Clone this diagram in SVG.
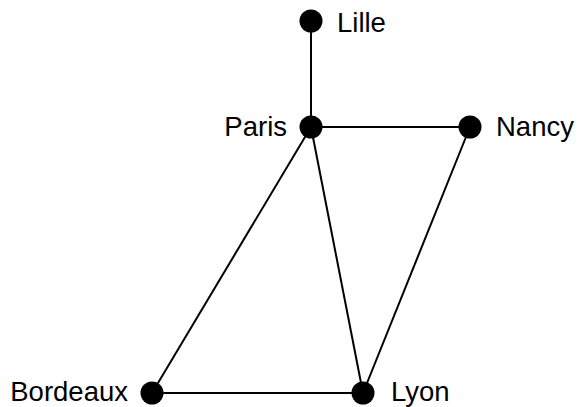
<svg xmlns="http://www.w3.org/2000/svg" width="578" height="407" viewBox="0 0 578 407">
<style>
.e{stroke:#000;stroke-width:2;fill:none}
.n{fill:#000}
.t{font-family:"Liberation Sans",Arial,sans-serif;font-size:27.5px;fill:#000}
</style>
<rect width="578" height="407" fill="#fff"/>
<g id="edges">
<line class="e" x1="311" y1="21" x2="311" y2="127"/>
<line class="e" x1="311" y1="127" x2="470" y2="127"/>
<line class="e" x1="311" y1="127" x2="152" y2="393"/>
<line class="e" x1="311" y1="127" x2="363" y2="393"/>
<line class="e" x1="470" y1="127" x2="363" y2="393"/>
<line class="e" x1="152" y1="393" x2="363" y2="393"/>
</g>
<g id="lille"><circle class="n" cx="311" cy="21" r="11.5"/><text class="t" x="337" y="32">Lille</text></g>
<g id="paris"><circle class="n" cx="311" cy="127" r="11.5"/><text class="t" x="287" y="136" text-anchor="end">Paris</text></g>
<g id="nancy"><circle class="n" cx="470" cy="127" r="11.5"/><text class="t" x="496" y="136">Nancy</text></g>
<g id="bordeaux"><circle class="n" cx="152" cy="393" r="11.5"/><text class="t" x="128" y="401" text-anchor="end">Bordeaux</text></g>
<g id="lyon"><circle class="n" cx="363" cy="393" r="11.5"/><text class="t" x="391" y="401">Lyon</text></g>
</svg>
